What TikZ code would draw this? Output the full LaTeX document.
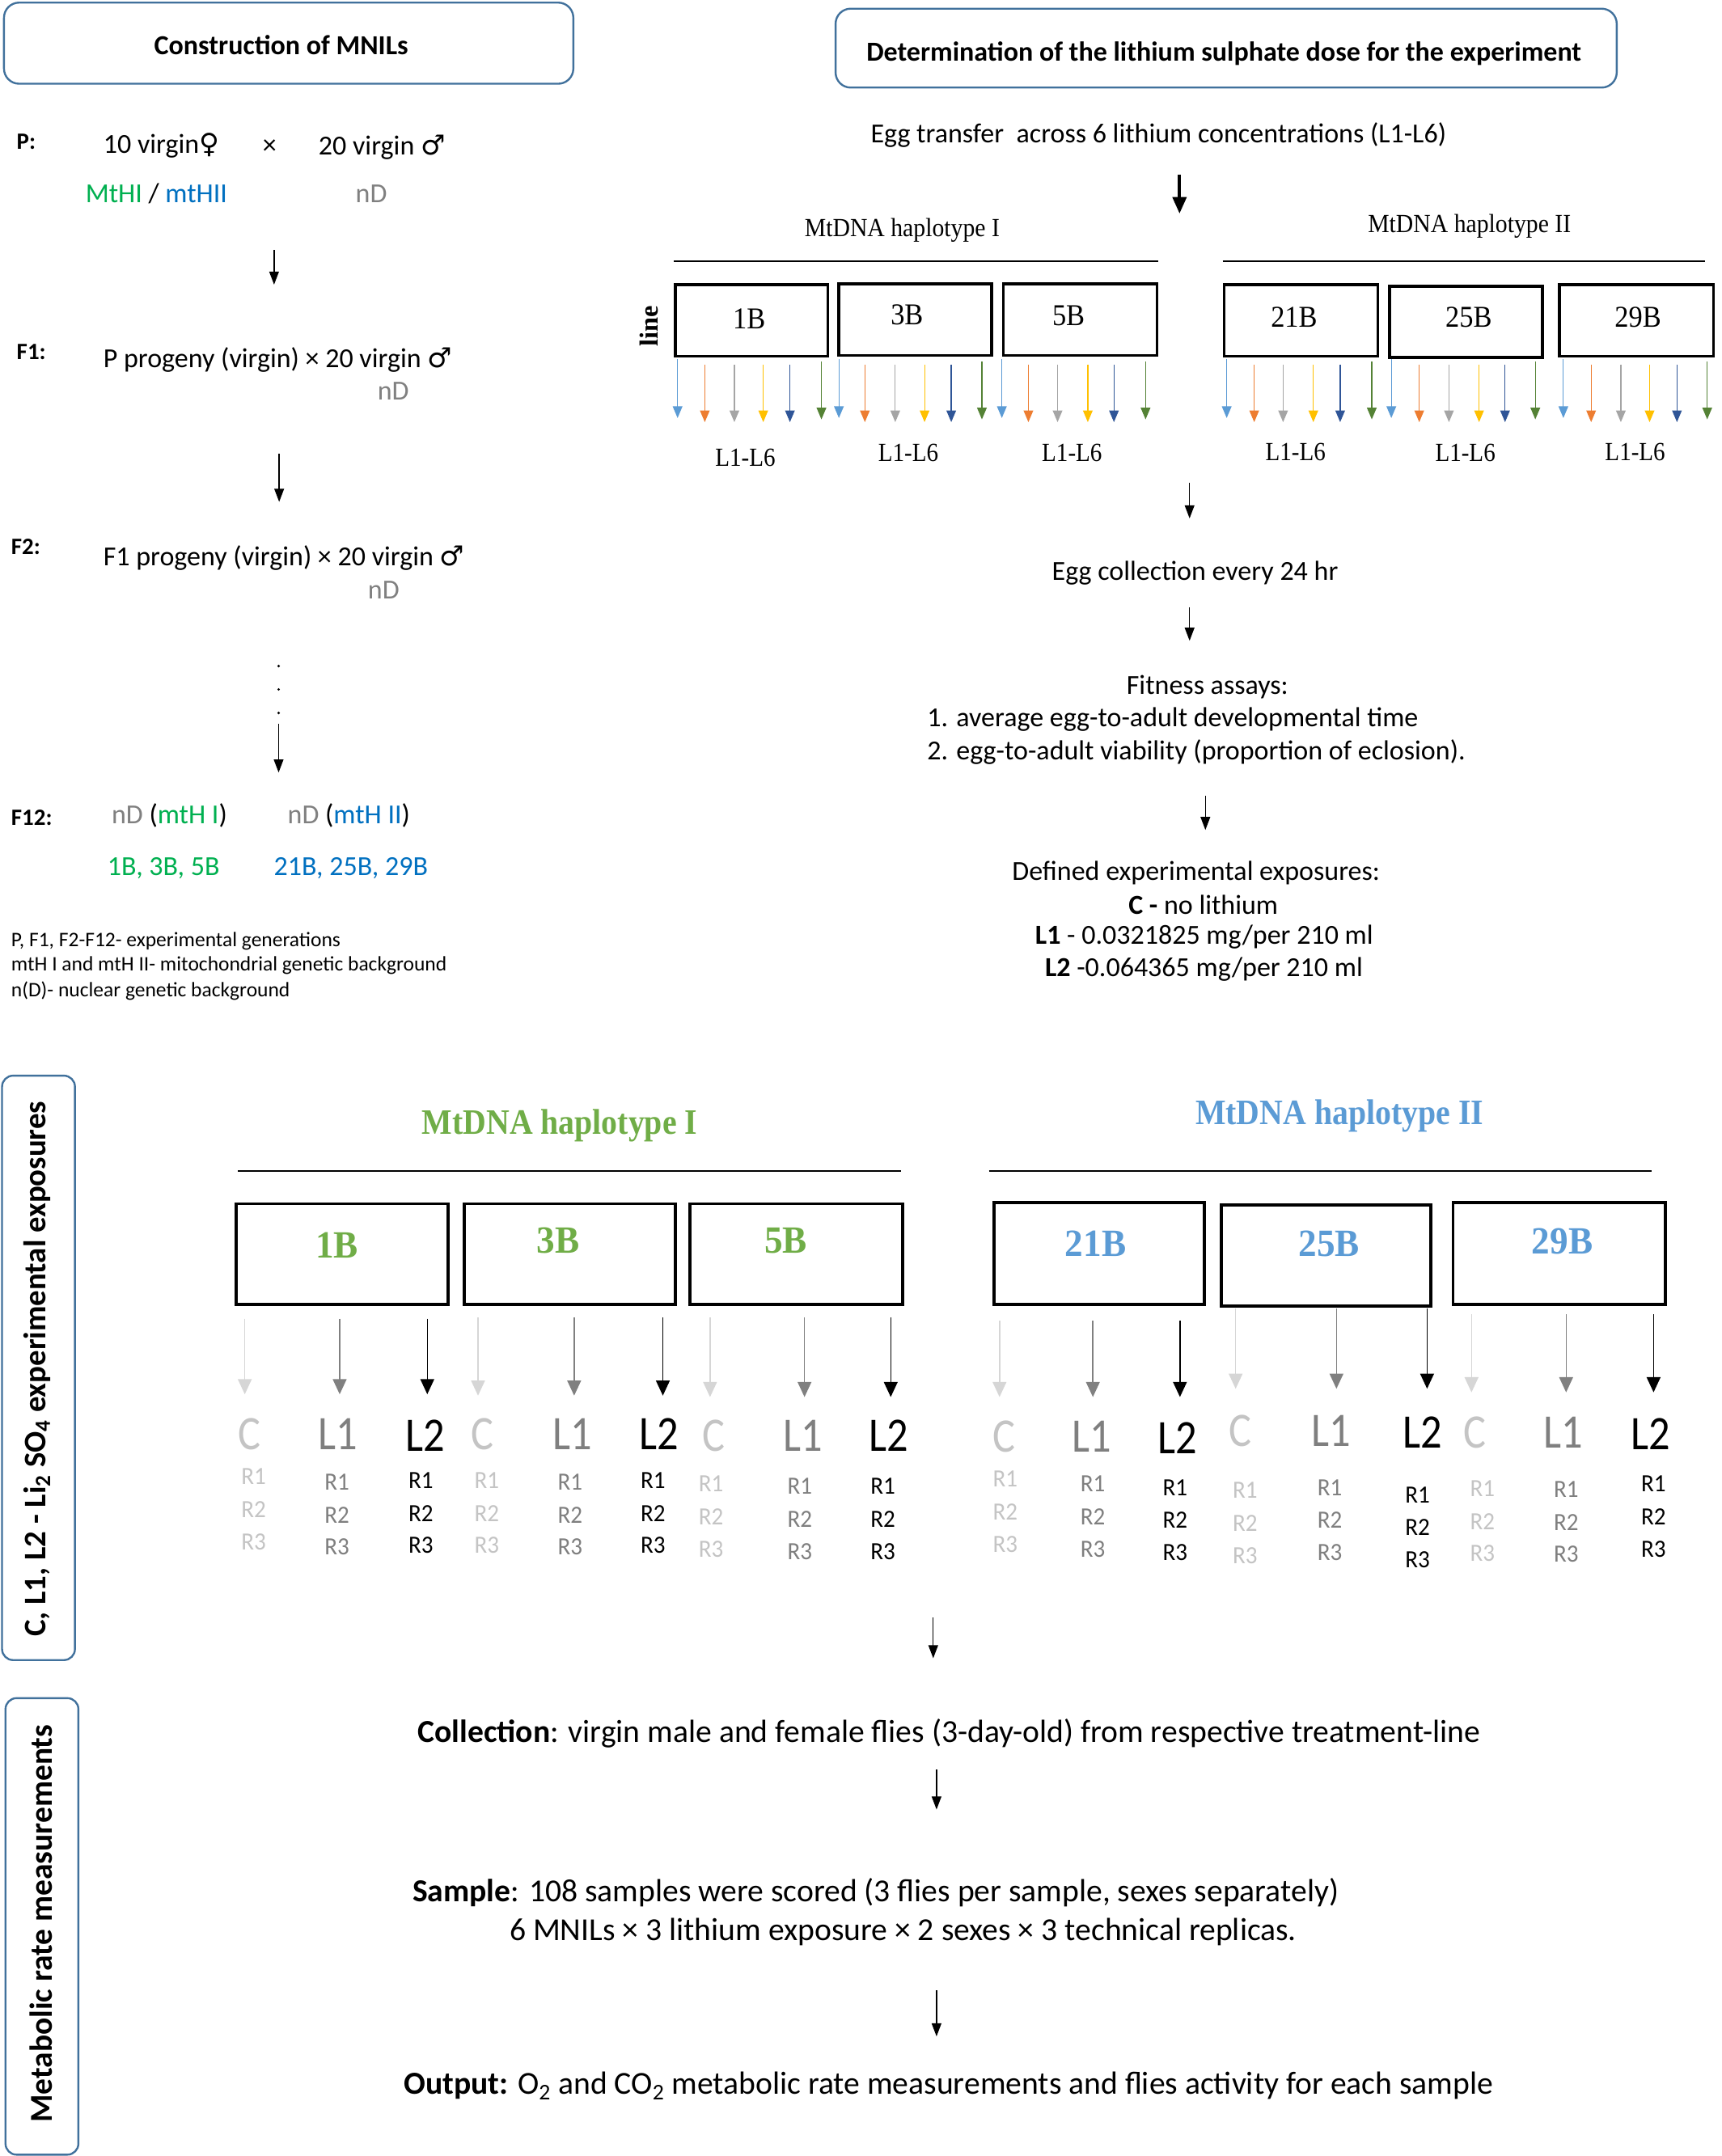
\documentclass[tikz,border=0pt]{standalone}
\usepackage{fontspec}
\setmainfont{Carlito}
\newfontfamily\seriff{Liberation Serif}
\newfontfamily\dejavu{DejaVu Sans}
\usetikzlibrary{arrows.meta}
\definecolor{boxblue}{HTML}{41719C}
\definecolor{tgreen}{HTML}{00B050}
\definecolor{tblue}{HTML}{0070C0}
\definecolor{ndgray}{HTML}{808080}
\definecolor{mgreen}{HTML}{70AD47}
\definecolor{mblue}{HTML}{5B9BD5}
\definecolor{cgray}{HTML}{C4C4C4}
\definecolor{lgray}{HTML}{7F7F7F}
\definecolor{arrCcol}{HTML}{D6D6D6}
\definecolor{arrLcol}{HTML}{808080}
\definecolor{ac1}{HTML}{5B9BD5}
\definecolor{ac2}{HTML}{ED7D31}
\definecolor{ac3}{HTML}{A5A5A5}
\definecolor{ac4}{HTML}{FFC000}
\definecolor{ac5}{HTML}{2F5597}
\definecolor{ac6}{HTML}{548235}
\newcommand{\fsz}[2]{\fontsize{#1}{#2}\selectfont}
\newcommand{\cnd}[2]{\scalebox{#1}[1]{#2}}
\tikzset{
  tb/.style={inner sep=0pt, font=\fsz{20}{24}},
  bt/.style={inner sep=0pt, font=\fsz{23.3}{27}},
  gl/.style={inner sep=0pt, anchor=west, font=\bfseries\fsz{17}{20}},
  leg/.style={inner sep=0pt, anchor=west, font=\fsz{15}{18}},
  tbox/.style={draw=boxblue, line width=1.4pt, rounded corners=11pt, inner sep=0pt},
  sbox/.style={draw=boxblue, line width=1.4pt, rounded corners=8pt, inner sep=0pt},
  bbox/.style={draw=black, line width=2pt, inner sep=0pt},
  mbox/.style={draw=black, line width=2.2pt, inner sep=0pt},
  sarr/.style={-{Triangle[length=9.5pt,width=7pt]}, line width=0.8pt},
  tarr/.style={-{Triangle[length=12pt,width=10pt]}, line width=2.2pt},
  carr/.style={-{Triangle[length=8.5pt,width=7pt]}, line width=0.7pt},
  marr/.style={-{Triangle[length=11pt,width=10pt]}, line width=0.9pt},
  serl/.style={inner sep=0pt, font=\seriff\fsz{19}{22}},
  serb/.style={inner sep=0pt, font=\seriff\fsz{22}{26}},
  mhap/.style={inner sep=0pt, font=\seriff\bfseries\fsz{26}{30}},
  mlab/.style={inner sep=0pt, font=\seriff\bfseries\fsz{28}{32}},
  big/.style={inner sep=0pt, font=\fsz{35}{40}},
  rlab/.style={inner sep=0pt, font=\fsz{18}{21}},
  typC/.style={text=cgray},
  typL1/.style={text=lgray},
  typL2/.style={text=black},
  arrC/.style={draw=arrCcol},
  arrL1/.style={draw=arrLcol},
  arrL2/.style={draw=black},
  side/.style={inner sep=0pt, rotate=90, font=\bfseries\fsz{22.8}{26}},
  dotn/.style={circle, fill=black, inner sep=0pt, minimum size=2pt}
}
\begin{document}
\begin{tikzpicture}[x=1pt,y=-1pt]
\useasboundingbox (0,0) rectangle (1252,1568);
\fill[white] (0,0) rectangle (1252,1568);

% ---------------- left column ----------------
\node[tbox, minimum width=414pt, minimum height=59pt] (b1) at (209.9,31.4) {};
\node[inner sep=0pt, font=\bfseries\fsz{20}{24}] (t1) at (204.5,32.6) {Construction of MNILs};

\node[gl] (P) at (12,103) {P:};
\node[tb, anchor=west] (pf) at (75,106) {10 virgin{\dejavu ♀}};
\node[tb] (px) at (196,107) {×};
\node[tb, anchor=west] (pm) at (231.5,107) {20 virgin {\dejavu ♂}};
\node[tb, anchor=west] (pmt) at (62,141) {\textcolor{tgreen}{MtHI} / \textcolor{tblue}{mtHII}};
\node[tb, text=ndgray] (pnd) at (270,141) {nD};
\coordinate (c1s) at (199.3,182);
\coordinate (c1e) at (199.3,207);
\draw[sarr] (c1s) -- (c1e);

\node[gl] (F1) at (12,256) {F1:};
\node[tb, anchor=west] (f1t) at (75,261.6) {P progeny (virgin) × 20 virgin {\dejavu ♂}};
\node[tb, text=ndgray] (f1nd) at (286,284.7) {nD};
\coordinate (c2s) at (203,330);
\coordinate (c2e) at (203,365);
\draw[sarr] (c2s) -- (c2e);

\node[gl] (F2) at (8,397.7) {F2:};
\node[tb, anchor=west] (f2t) at (75,405.6) {F1 progeny (virgin) × 20 virgin {\dejavu ♂}};
\node[tb, text=ndgray] (f2nd) at (279,429) {nD};
\node[dotn] (dt1) at (202.6,484.4) {};
\node[dotn] (dt2) at (202.6,501.4) {};
\node[dotn] (dt3) at (202.6,518.5) {};
\coordinate (c3s) at (202.6,526.4);
\coordinate (c3e) at (202.6,561.8);
\draw[sarr] (c3s) -- (c3e);

\node[gl] (F12) at (8,594.6) {F12:};
\node[tb, anchor=west] (f12a) at (81,593.3) {\textcolor{ndgray}{nD} (\textcolor{tgreen}{mtH I})};
\node[tb, anchor=west] (f12b) at (209,593.3) {\textcolor{ndgray}{nD} (\textcolor{tblue}{mtH II})};
\node[tb, anchor=west, text=tgreen] (ln1) at (78,631.4) {1B, 3B, 5B};
\node[tb, anchor=west, text=tblue] (ln2) at (199,631.4) {21B, 25B, 29B};

\node[leg] (leg1) at (8,684.4) {P, F1, F2-F12- experimental generations};
\node[leg] (leg2) at (8,702.3) {mtH I and mtH II- mitochondrial genetic background};
\node[leg] (leg3) at (8,720.7) {n(D)- nuclear genetic background};

% ---------------- right top ----------------
\node[tbox, minimum width=568pt, minimum height=57.4pt] (b2) at (891.6,35) {};
\node[inner sep=0pt, font=\bfseries\fsz{20}{24}] (t2) at (890,38.7) {Determination of the lithium sulphate dose for the experiment};
\node[tb, anchor=west] (egg) at (633,98) {Egg transfer\ \ across 6 lithium concentrations (L1-L6)};
\coordinate (c4s) at (857.7,127);
\coordinate (c4e) at (857.7,155.3);
\draw[tarr] (c4s) -- (c4e);

\node[serl] (h1) at (656,167.7) {\cnd{0.92}{MtDNA haplotype I}};
\node[serl] (h2) at (1068.5,164.3) {\cnd{0.92}{MtDNA haplotype II}};
\draw[line width=1.1pt] (490,189.8) -- (842,189.8);
\draw[line width=1.1pt] (889,189.8) -- (1240,189.8);

\node[serl, font=\seriff\bfseries\fsz{19}{22}, rotate=90] (lineL) at (472,237) {line};

\node[bbox, minimum width=110.8pt, minimum height=52pt] (B1) at (546.4,233) {};
\node[bbox, minimum width=111pt, minimum height=52pt] (B3) at (665.5,232.5) {};
\node[bbox, minimum width=112pt, minimum height=52pt] (B5) at (785.5,232.5) {};
\node[bbox, minimum width=112pt, minimum height=52pt] (B21) at (946,233) {};
\node[bbox, minimum width=111pt, minimum height=51.8pt] (B25) at (1066,234) {};
\node[bbox, minimum width=112pt, minimum height=52pt] (B29) at (1190,233) {};
\node[serb] (B1t) at (544.7,232) {\cnd{0.92}{1B}};
\node[serb] (B3t) at (659.5,229) {\cnd{0.92}{3B}};
\node[serb] (B5t) at (777,229.5) {\cnd{0.92}{5B}};
\node[serb] (B21t) at (941,230.5) {\cnd{0.92}{21B}};
\node[serb] (B25t) at (1068,231) {\cnd{0.92}{25B}};
\node[serb] (B29t) at (1191,230.5) {\cnd{0.92}{29B}};

\foreach \g/\xs in {a/{492.7,512.5,534,555,574.4,597.3},
                    b/{610,628.9,651,672.3,691.7,714},
                    c/{728.5,747.8,769,791,810,833},
                    d/{892,912,933,955,974.5,997.5},
                    e/{1011.7,1032,1053.6,1075.5,1094.4,1116.4},
                    f/{1136.8,1157,1178.6,1199.5,1219.4,1241.4}}{
  \foreach \x [count=\i] in \xs {
    \coordinate (ta\g\i s) at (\x,{\i==1 ? 261 : (\i==6 ? 263 : 265)});
    \coordinate (ta\g\i e) at (\x,{\i==1 ? 304 : (\i==6 ? 305 : 307)});
    \draw[carr, draw=ac\i] (ta\g\i s) -- (ta\g\i e);
  }
}
\node[serl] (L16a) at (542,333) {\cnd{0.9}{L1-L6}};
\node[serl] (L16b) at (660.5,329.5) {\cnd{0.9}{L1-L6}};
\node[serl] (L16c) at (779.5,329.5) {\cnd{0.9}{L1-L6}};
\node[serl] (L16d) at (942,328.5) {\cnd{0.9}{L1-L6}};
\node[serl] (L16e) at (1065.5,329.5) {\cnd{0.9}{L1-L6}};
\node[serl] (L16f) at (1189,328.5) {\cnd{0.9}{L1-L6}};

\coordinate (c5s) at (865,351);
\coordinate (c5e) at (865,377);
\draw[sarr] (c5s) -- (c5e);
\node[tb] (ec) at (869,416.7) {Egg collection every 24 hr};
\coordinate (c6s) at (865,441.5);
\coordinate (c6e) at (865,466);
\draw[sarr] (c6s) -- (c6e);
\node[tb] (fa) at (878,499.7) {Fitness assays:};
\node[tb, anchor=west] (fa1) at (674,523.2) {1. average egg-to-adult developmental time};
\node[tb, anchor=west] (fa2) at (674,546.7) {2. egg-to-adult viability (proportion of eclosion).};
\coordinate (c7s) at (876.5,579);
\coordinate (c7e) at (876.5,603.6);
\draw[sarr] (c7s) -- (c7e);
\node[tb] (de) at (869.7,634.6) {Defined experimental exposures:};
\node[tb] (dc) at (875,658) {\textbf{C -} no lithium};
\node[tb] (dl1) at (875.6,681.6) {\textbf{L1} - 0.0321825 mg/per 210 ml};
\node[tb] (dl2) at (875.4,705.2) {\textbf{L2} -0.064365 mg/per 210 ml};

% ---------------- middle ----------------
\node[sbox, minimum width=53pt, minimum height=425pt] (s1) at (28,994.8) {};
\node[side] (s1t) at (27,995.5) {C, L1, L2 - Li\textsubscript{2} SO\textsubscript{4} experimental exposures};

\node[mhap, text=mgreen] (mh1) at (407,818.4) {\cnd{0.9}{MtDNA haplotype I}};
\node[mhap, text=mblue] (mh2) at (974,811.4) {\cnd{0.9}{MtDNA haplotype II}};
\draw[line width=1.2pt] (173,851.4) -- (655,851.4);
\draw[line width=1.2pt] (719,851.4) -- (1201,851.4);

\node[mbox, minimum width=154pt, minimum height=73.2pt] (M1) at (248.65,912) {};
\node[mbox, minimum width=153.2pt, minimum height=73.2pt] (M3) at (414.4,912) {};
\node[mbox, minimum width=154.7pt, minimum height=73.2pt] (M5) at (578.85,912) {};
\node[mbox, minimum width=152.7pt, minimum height=73.9pt] (M21) at (799.35,911.65) {};
\node[mbox, minimum width=152.4pt, minimum height=73.3pt] (M25) at (964.2,913.15) {};
\node[mbox, minimum width=154.4pt, minimum height=73.9pt] (M29) at (1133.8,911.65) {};
\node[mlab, text=mgreen] (M1t) at (245,905.6) {\cnd{0.95}{1B}};
\node[mlab, text=mgreen] (M3t) at (406,902) {\cnd{0.95}{3B}};
\node[mlab, text=mgreen] (M5t) at (571.4,902) {\cnd{0.95}{5B}};
\node[mlab, text=mblue] (M21t) at (796.7,904.4) {\cnd{0.95}{21B}};
\node[mlab, text=mblue] (M25t) at (966.4,904.4) {\cnd{0.95}{25B}};
\node[mlab, text=mblue] (M29t) at (1136,903) {\cnd{0.95}{29B}};

\foreach \t/\xl/\yl/\xr/\yr/\xa/\ta/\tb [count=\n] in {
  C/181.4/1042.8/184.4/1074/178/959/1014,
  L1/245.9/1042.8/245/1077.7/247/959/1014,
  L2/309.4/1044/306/1076.5/310.7/959/1014,
  C/351/1042.8/354/1076.5/347.6/958/1015,
  L1/416/1042.8/414.6/1077.7/417.5/958/1015,
  L2/479/1042.8/474.8/1076.5/482/958/1015,
  C/519/1044/517/1078.9/516.3/958/1016,
  L1/584/1044/581.6/1081/585/958/1016,
  L2/646.4/1044/642/1081/647.7/958/1016,
  C/730/1045/731/1075.4/726.8/960.3/1016,
  L1/793.6/1045/794.7/1079/794.7/960.3/1016,
  L2/856.4/1046/854.5/1081.7/858/960.3/1016,
  C/901.6/1040.5/905.4/1084/898.5/951.4/1010,
  L1/968/1040.5/967/1081.7/971.8/951.4/1010,
  L2/1034.6/1041.7/1030.8/1087/1037.7/951.4/1010,
  C/1072.4/1041.7/1078/1082.4/1070/956/1012.6,
  L1/1136.8/1041.7/1138.8/1083/1138.8/956/1012.6,
  L2/1200.5/1042.8/1202.4/1079/1202.4/956/1012.6}{
  \coordinate (ma\n s) at (\xa,\ta);
  \coordinate (ma\n e) at (\xa,\tb);
  \draw[marr, arr\t] (ma\n s) -- (ma\n e);
  \node[big, typ\t] (lab\n) at (\xl,\yl) {\cnd{0.88}{\t}};
  \node[rlab, typ\t] (r\n x1) at (\xr,\yr) {\cnd{0.95}{R1}};
  \node[rlab, typ\t] (r\n x2) at (\xr,{\yr+24}) {\cnd{0.95}{R2}};
  \node[rlab, typ\t] (r\n x3) at (\xr,{\yr+47.5}) {\cnd{0.95}{R3}};
}

% ---------------- bottom ----------------
\coordinate (c8s) at (678.6,1176.5);
\coordinate (c8e) at (678.6,1206);
\draw[sarr] (c8s) -- (c8e);

\node[sbox, minimum width=53pt, minimum height=332pt] (s2) at (30.5,1401) {};
\node[side, font=\bfseries\fsz{23.2}{26}] (s2t) at (30,1399) {Metabolic rate measurements};

\node[bt] (col) at (690,1260.4) {\textbf{Collection}: virgin male and female flies (3-day-old) from respective treatment-line};
\coordinate (c9s) at (681,1287);
\coordinate (c9e) at (681,1316);
\draw[sarr] (c9s) -- (c9e);
\node[bt] (smp) at (636.7,1376.3) {\textbf{Sample}: 108 samples were scored (3 flies per sample, sexes separately)};
\node[bt] (smp2) at (656.7,1405) {6 MNILs × 3 lithium exposure × 2 sexes × 3 technical replicas.};
\coordinate (c10s) at (681,1447.5);
\coordinate (c10e) at (681,1481);
\draw[sarr] (c10s) -- (c10e);
\node[bt] (outp) at (689.7,1517) {\textbf{Output:} O\textsubscript{2} and CO\textsubscript{2} metabolic rate measurements and flies activity for each sample};
\end{tikzpicture}
\end{document}
